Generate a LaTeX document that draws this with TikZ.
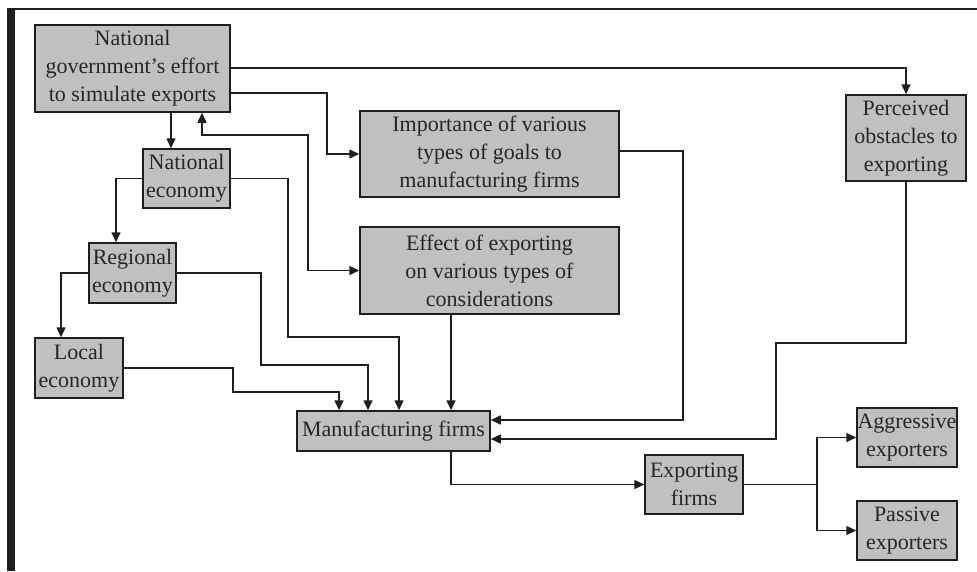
\documentclass[tikz,border=0pt]{standalone}
\usepackage{fontspec}
\setmainfont{Liberation Serif}
\usetikzlibrary{arrows.meta}
\definecolor{boxfill}{HTML}{C0C0C0}
\definecolor{ink}{HTML}{1E1E1E}
\definecolor{txt}{HTML}{262626}
\begin{document}
\begin{tikzpicture}[x=1pt,y=-1pt,
  box/.style={draw=ink, line width=1.5pt, fill=boxfill, text=txt, inner sep=0pt,
    align=center, font=\fontsize{22}{28}\selectfont},
  link/.style={draw=ink, line width=1.5pt},
  arr/.style={link, -{Triangle[length=10pt,width=9pt]}},
  arrboth/.style={link, {Triangle[length=10pt,width=9pt]}-{Triangle[length=10pt,width=9pt]}}]
  \useasboundingbox (0,0) rectangle (977,571);
  % page frame: heavy bar on the left, thin rule along the top
  \fill[ink] (7,8) rectangle (15,571);
  \draw[ink, line width=1.8pt] (15,8.8) -- (977,8.8);

  % boxes
  \node[box, minimum width=195pt, minimum height=87pt] (gov) at (132.5,68.5)
    {National\\government's effort\\to simulate exports};
  \node[box, minimum width=87pt, minimum height=59pt] (natl) at (186.5,178.5)
    {National\\economy};
  \node[box, minimum width=87pt, minimum height=60pt] (reg) at (132.5,273)
    {Regional\\economy};
  \node[box, minimum width=88pt, minimum height=60pt] (loc) at (79,368)
    {Local\\economy};
  \node[box, minimum width=259pt, minimum height=86pt] (imp) at (489.5,154)
    {Importance of various\\types of goals to\\manufacturing firms};
  \node[box, minimum width=259pt, minimum height=87pt] (eff) at (489.5,270.5)
    {Effect of exporting\\on various types of\\considerations};
  \node[box, minimum width=120pt, minimum height=86pt] (perc) at (906,138)
    {Perceived\\obstacles to\\exporting};
  \node[box, minimum width=193pt, minimum height=40pt] (mfg) at (393.5,431)
    {Manufacturing firms};
  \node[box, minimum width=98pt, minimum height=59pt] (exp) at (694,484.5)
    {Exporting\\firms};
  \node[box, minimum width=100pt, minimum height=59pt] (agg) at (907,437.5)
    {Aggressive\\exporters};
  \node[box, minimum width=100pt, minimum height=59pt] (pas) at (907,530.5)
    {Passive\\exporters};

  % connectors from the government box
  \draw[arr] (gov.east |- 0,68) -| (perc.north);
  \draw[arr] (gov.east |- 0,93) -| (327,154) -- (imp.west);
  \draw[arr] (gov.south -| 171,0) -- (natl.north -| 171,0);
  \draw[arrboth] (gov.south -| 202,0) |- (308,135) |- (eff.west);

  % economies
  \draw[arr] (natl.west) -| (reg.north -| 116,0);
  \draw[arr] (natl.east) -| (288,337) -| (mfg.north -| 399,0);
  \draw[arr] (reg.west) -| (loc.north -| 61,0);
  \draw[arr] (reg.east) -| (261,365) -| (mfg.north -| 368,0);
  \draw[arr] (loc.east) -| (233,392) -| (mfg.north -| 339,0);

  % factors feeding the manufacturing firms
  \draw[arr] (eff.south -| 451,0) -- (mfg.north -| 451,0);
  \draw[arr] (imp.east |- 0,151) -| (683,420) -- (mfg.east |- 0,420);
  \draw[arr] (perc.south) |- (776,343) |- (mfg.east |- 0,439);

  % outcomes
  \draw[arr] (mfg.south -| 451,0) |- (exp.west);
  \coordinate (split) at (817,484.5);
  \draw[link] (exp.east) -- (split);
  \draw[arr] (split) |- (agg.west);
  \draw[arr] (split) |- (pas.west);
\end{tikzpicture}
\end{document}
